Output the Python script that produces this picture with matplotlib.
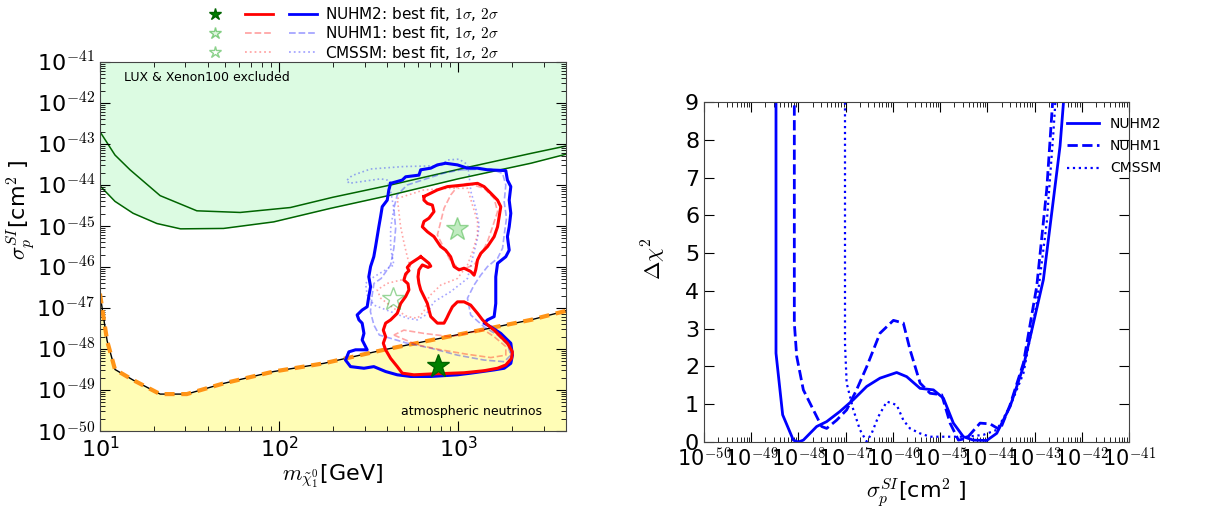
import numpy as np
import matplotlib
matplotlib.use("Agg")
from matplotlib import pyplot as plt
from matplotlib.lines import Line2D
from matplotlib.legend_handler import HandlerTuple
from matplotlib.ticker import LogLocator, NullFormatter

plt.rcParams['font.family'] = ['DejaVu Sans']
plt.rcParams['mathtext.fontset'] = 'cm'

# ---- left panel data (log10 of mass [GeV] and log10 of sigma [cm^2]) ----
# LUX and Xenon100 limits
xenon_logm = [1.0, 1.084, 1.168, 1.336, 1.541, 1.783, 2.063, 2.3, 2.623, 3.0, 3.406, 3.602]
xenon_logsig = [-42.70, -43.27, -43.63, -44.26, -44.63, -44.67, -44.55, -44.30, -44.00, -43.62, -43.23, -43.05]
lux_logm = [1.0, 1.084, 1.185, 1.318, 1.45, 1.69, 1.97, 2.287, 2.62, 3.0, 3.406, 3.602]
lux_logsig = [-44.02, -44.40, -44.69, -44.94, -45.07, -45.06, -44.90, -44.57, -44.25, -43.85, -43.47, -43.25]

# neutrino floor
nu_logm = [1.0, 1.04, 1.084, 1.186, 1.336, 1.485, 1.69, 1.97, 2.25, 2.585, 3.0, 3.406, 3.602]
nu_logsig = [-46.65, -47.8, -48.5, -48.76, -49.1, -49.1, -48.84, -48.55, -48.35, -48.02, -47.65, -47.29, -47.07]

# NUHM2 2 sigma contour
nuhm2_2s_logm = [2.623, 2.688, 2.707, 2.781, 2.791, 2.847, 2.884, 2.930, 2.996, 3.052, 3.108, 3.164,
                 3.266, 3.275, 3.294, 3.285, 3.294, 3.285, 3.275, 3.285, 3.266, 3.220, 3.210, 3.210,
                 3.201, 3.164, 3.145, 3.182, 3.238, 3.294, 3.303, 3.294, 3.257, 3.201, 3.070, 2.996,
                 2.847, 2.735, 2.660, 2.595, 2.529, 2.474, 2.399, 2.371, 2.390, 2.427, 2.492, 2.464,
                 2.474, 2.464, 2.446, 2.436, 2.464, 2.492, 2.501, 2.511, 2.501, 2.511, 2.529, 2.539,
                 2.548, 2.557, 2.567, 2.576, 2.604, 2.613, 2.623]
nuhm2_2s_logsig = [-43.96, -43.88, -43.80, -43.76, -43.63, -43.59, -43.51, -43.47, -43.51, -43.59, -43.59, -43.63,
                   -43.65, -43.88, -44.04, -44.37, -44.69, -45.02, -45.26, -45.59, -45.75, -45.91, -46.24, -46.89,
                   -47.21, -47.29, -47.37, -47.46, -47.62, -47.86, -48.15, -48.35, -48.47, -48.51, -48.59, -48.63,
                   -48.67, -48.67, -48.63, -48.55, -48.43, -48.47, -48.43, -48.27, -48.07, -48.02, -48.02, -47.78,
                   -47.62, -47.37, -47.29, -47.17, -47.05, -46.97, -46.72, -46.48, -46.24, -45.99, -45.75, -45.50,
                   -45.26, -45.02, -44.77, -44.53, -44.37, -44.12, -43.96]

# NUHM2 1 sigma contour, upper island
nuhm2_1s_up_logm = [2.809, 2.847, 2.884, 2.940, 3.033, 3.108, 3.145, 3.182, 3.220, 3.238, 3.229, 3.220,
                    3.201, 3.164, 3.126, 3.108, 3.098, 3.089, 3.070, 3.033, 3.005, 2.977, 2.958, 2.930,
                    2.902, 2.865, 2.828, 2.800, 2.809, 2.837, 2.865, 2.856, 2.828, 2.809, 2.809]
nuhm2_1s_up_logsig = [-44.28, -44.20, -44.12, -44.04, -44.00, -43.96, -44.04, -44.20, -44.37, -44.53, -44.77, -45.02,
                      -45.26, -45.50, -45.67, -45.83, -46.07, -46.20, -46.11, -46.03, -46.07, -45.99, -45.75, -45.59,
                      -45.50, -45.26, -45.14, -45.02, -44.89, -44.81, -44.65, -44.49, -44.45, -44.37, -44.28]

# NUHM2 1 sigma contour, lower island
nuhm2_1s_lo_logm = [2.791, 2.763, 2.735, 2.716, 2.725, 2.707, 2.697, 2.720, 2.725, 2.707, 2.679, 2.660,
                    2.623, 2.595, 2.582, 2.595, 2.582, 2.595, 2.623, 2.660, 2.688, 2.753, 2.847, 3.033,
                    3.145, 3.220, 3.266, 3.298, 3.303, 3.275, 3.238, 3.201, 3.164, 3.136, 3.108, 3.070,
                    3.033, 2.996, 2.968, 2.949, 2.936, 2.921, 2.884, 2.847, 2.837, 2.828, 2.809, 2.791,
                    2.781, 2.776, 2.781, 2.800, 2.832, 2.847, 2.837, 2.809, 2.791]
nuhm2_1s_lo_logsig = [-45.75, -45.83, -45.91, -46.01, -46.09, -46.17, -46.32, -46.41, -46.56, -46.72, -46.89, -47.13,
                      -47.29, -47.37, -47.54, -47.70, -47.86, -48.02, -48.23, -48.43, -48.59, -48.63, -48.61, -48.58,
                      -48.53, -48.47, -48.39, -48.23, -48.07, -47.86, -47.70, -47.54, -47.41, -47.29, -47.13, -46.93,
                      -46.85, -46.85, -46.97, -47.13, -47.25, -47.37, -47.37, -47.21, -47.05, -46.89, -46.72, -46.56,
                      -46.40, -46.24, -46.07, -45.95, -46.01, -45.98, -45.91, -45.81, -45.75]

# NUHM1 2 sigma contour
nuhm1_2s_logm = [3.015, 3.182, 3.248, 3.266, 3.257, 3.270, 3.257, 3.248, 3.220, 3.164, 3.126, 3.089,
                 3.052, 3.070, 3.145, 3.220, 3.276, 3.294, 3.257, 3.145, 2.996, 2.847, 2.716, 2.623,
                 2.560, 2.530, 2.510, 2.520, 2.530, 2.570, 2.623, 2.641, 2.651, 2.641, 2.660, 2.716,
                 2.828, 2.921, 3.015]
nuhm1_2s_logsig = [-43.63, -43.61, -43.72, -44.00, -44.41, -44.81, -45.22, -45.54, -45.79, -45.99, -46.20, -46.44,
                   -46.76, -47.17, -47.46, -47.66, -47.90, -48.15, -48.31, -48.27, -48.15, -47.98, -47.86, -47.74,
                   -47.66, -47.42, -47.09, -46.68, -46.40, -46.28, -45.95, -45.54, -45.06, -44.57, -44.24, -44.00,
                   -43.84, -43.71, -43.63]

# NUHM1 1 sigma contour, two islands
nuhm1_1s_up_logm = [3.052, 3.145, 3.201, 3.220, 3.192, 3.164, 3.126, 3.089, 3.015, 2.959, 2.921, 2.884,
                    2.903, 2.921, 2.959, 2.996, 3.052]
nuhm1_1s_up_logsig = [-43.96, -44.08, -44.33, -44.65, -45.02, -45.38, -45.71, -45.95, -46.07, -45.87, -45.54, -45.22,
                      -44.89, -44.57, -44.24, -44.04, -43.96]
nuhm1_1s_lo_logm = [2.641, 2.772, 2.903, 3.052, 3.182, 3.266, 3.266, 3.201, 3.145, 3.089, 2.959, 2.809,
                    2.697, 2.641]
nuhm1_1s_lo_logsig = [-47.66, -47.90, -48.02, -48.13, -48.21, -48.15, -47.94, -47.70, -47.54, -47.58, -47.70, -47.62,
                      -47.54, -47.66]

# CMSSM contours
cmssm_2s_logm = [2.380, 2.408, 2.511, 2.697, 2.903, 2.940, 3.005, 3.052, 3.061, 3.071, 3.098, 3.117,
                 3.108, 3.089, 3.071, 3.052, 2.959, 2.865, 2.819, 2.772, 2.716, 2.623, 2.530, 2.492,
                 2.483, 2.530, 2.641, 2.623, 2.623, 2.641, 2.623, 2.604, 2.567, 2.455, 2.390, 2.380]
cmssm_2s_logsig = [-43.88, -43.77, -43.61, -43.55, -43.53, -43.39, -43.37, -43.50, -43.76, -44.16, -44.57, -44.98,
                   -45.30, -45.63, -45.95, -46.28, -46.60, -46.85, -47.17, -47.29, -47.25, -47.09, -46.93, -46.68,
                   -46.40, -46.24, -45.95, -45.54, -45.06, -44.57, -44.16, -43.88, -43.85, -43.92, -43.96, -43.88]
cmssm_1s_logm = [2.660, 2.809, 2.959, 3.052, 3.080, 3.108, 3.108, 3.080, 3.052, 2.996, 2.903, 2.837,
                 2.809, 2.772, 2.716, 2.641, 2.567, 2.548, 2.604, 2.697, 2.735, 2.716, 2.697, 2.678,
                 2.669, 2.660]
cmssm_1s_logsig = [-44.33, -44.12, -44.08, -44.08, -44.49, -44.89, -45.22, -45.63, -45.95, -46.28, -46.44, -46.72,
                   -47.09, -47.25, -47.21, -47.01, -46.76, -46.56, -46.40, -46.30, -46.05, -45.75, -45.40, -45.00,
                   -44.65, -44.33]

# best fit points (mass in GeV, sigma in cm^2)
best_nuhm2 = (770.0, 10**-48.41)
best_nuhm1 = (980.0, 10**-45.07)
best_cmssm = (430.0, 10**-46.78)

# ---- right panel data: delta chi^2 vs log10(sigma) ----
nuhm2_dchi_logsig = [-48.476, -48.476, -48.335, -48.109, -48.003, -47.897, -47.615, -47.403, -47.121, -46.838,
                     -46.556, -46.274, -45.921, -45.709, -45.425, -45.143, -44.931, -44.720, -44.508, -44.296,
                     -44.014, -43.802, -43.519, -43.237, -43.025, -42.814, -42.602, -42.461, -42.369]
nuhm2_dchi = [9.3, 2.35, 0.72, 0.05, 0.0, 0.05, 0.41, 0.54, 0.81, 1.12,
              1.47, 1.69, 1.84, 1.73, 1.42, 1.38, 1.16, 0.50, 0.14, 0.05,
              0.04, 0.23, 0.94, 2.0, 3.15, 4.30, 6.42, 7.84, 9.3]
nuhm1_dchi_logsig = [-48.088, -48.088, -48.038, -47.897, -47.685, -47.509, -47.403, -47.19, -46.98, -46.77,
                     -46.556, -46.274, -45.99, -45.78, -45.637, -45.425, -45.213, -44.967, -44.79, -44.613,
                     -44.437, -44.155, -43.943, -43.731, -43.52, -43.237, -42.955, -42.743, -42.602]
nuhm1_dchi = [9.3, 3.15, 2.27, 1.38, 0.85, 0.41, 0.36, 0.58, 0.85, 1.38,
              1.99, 2.88, 3.22, 3.15, 2.44, 1.56, 1.29, 1.25, 0.50, 0.05,
              0.10, 0.50, 0.48, 0.32, 0.98, 2.09, 4.12, 6.69, 9.3]
cmssm_dchi_logsig = [-47.015, -47.015, -46.98, -46.838, -46.697, -46.556, -46.45, -46.31, -46.13, -45.92,
                     -45.78, -45.64, -45.43, -45.215, -45.0, -44.79, -44.437, -44.085, -43.802, -43.52,
                     -43.237, -42.955, -42.743, -42.602, -42.545]
cmssm_dchi = [9.3, 2.6, 1.56, 0.85, 0.32, 0.01, 0.23, 0.67, 1.07,
              0.98, 0.58, 0.36, 0.23, 0.14, 0.14, 0.14, 0.14, 0.19, 0.32, 0.94,
              1.82, 3.68, 5.81, 8.20, 9.3]

model_names = ['NUHM2', 'NUHM1', 'CMSSM']
decades = list(range(-50, -40))
decade_labels = [r'10$^{\mathsf{%d}}$' % k for k in decades]

fig = plt.figure(figsize=(12.13, 5.08), dpi=100)
ax1 = fig.add_axes([0.0824, 0.1516, 0.3842, 0.7264])
ax2 = fig.add_axes([0.5804, 0.1299, 0.3504, 0.6693])

p = lambda a: 10.0 ** np.array(a)

# ---------------- left panel ----------------
xmin, xmax = 10.0, 4000.0
ymin, ymax = 1e-50, 1e-41
lux_m = p(lux_logm)
ax1.fill_between(lux_m, p(lux_logsig), ymax, color='#dcfbe2', lw=0, zorder=0)
ax1.fill_between(p(nu_logm), ymin, p(nu_logsig), color='#fffdb6', lw=0, zorder=0)
ax1.plot(p(xenon_logm), p(xenon_logsig), color='darkgreen', lw=1.1, zorder=1)
ax1.plot(lux_m, p(lux_logsig), color='darkgreen', lw=1.1, zorder=1)
ax1.plot(p(nu_logm), p(nu_logsig), color='black', lw=1.0, zorder=1)
ax1.plot(p(nu_logm), p(nu_logsig), color='#ff9416', lw=3, ls=(0, (2.4, 1.6)), zorder=2)

faint = 0.35
ax1.plot(p(cmssm_2s_logm), p(cmssm_2s_logsig), color='blue', alpha=faint, lw=1.2, ls=':', zorder=3)
ax1.plot(p(cmssm_1s_logm), p(cmssm_1s_logsig), color='red', alpha=faint, lw=1.2, ls=':', zorder=3)
ax1.plot(p(nuhm1_2s_logm), p(nuhm1_2s_logsig), color='blue', alpha=faint, lw=1.2, ls='--', zorder=3)
ax1.plot(p(nuhm1_1s_up_logm), p(nuhm1_1s_up_logsig), color='red', alpha=faint, lw=1.2, ls='--', zorder=3)
ax1.plot(p(nuhm1_1s_lo_logm), p(nuhm1_1s_lo_logsig), color='red', alpha=faint, lw=1.2, ls='--', zorder=3)

ax1.plot(p(nuhm2_2s_logm), p(nuhm2_2s_logsig), color='blue', lw=2.2, zorder=4)
ax1.plot(p(nuhm2_1s_up_logm), p(nuhm2_1s_up_logsig), color='red', lw=2.2, zorder=4)
ax1.plot(p(nuhm2_1s_lo_logm), p(nuhm2_1s_lo_logsig), color='red', lw=2.2, zorder=4)

ax1.plot(*best_nuhm2, marker='*', ms=17, color='green', mec='darkgreen', zorder=6)
ax1.plot(*best_nuhm1, marker='*', ms=17, mfc=(0.2, 0.75, 0.2, 0.3), mec=(0.0, 0.6, 0.0, 0.35), zorder=6)
ax1.plot(*best_cmssm, marker='*', ms=17, mfc='none', mec=(0.0, 0.6, 0.0, 0.4), zorder=6)

ax1.text(0.052, 0.959, 'LUX & Xenon100 excluded', transform=ax1.transAxes, fontsize=9, va='center')
ax1.text(0.646, 0.0515, 'atmospheric neutrinos', transform=ax1.transAxes, fontsize=9, va='center')

ax1.set_xscale('log')
ax1.set_yscale('log')
ax1.set_xlim(xmin, xmax)
ax1.set_ylim(ymin, ymax)
ax1.set_yticks([10.0 ** k for k in decades], decade_labels)
ax1.yaxis.set_minor_locator(LogLocator(base=10, subs=np.arange(2, 10), numticks=100))
ax1.yaxis.set_minor_formatter(NullFormatter())
ax1.set_xlabel(r'$m_{\tilde{\chi}^0_1}$[GeV]', fontsize=16, labelpad=1)
ax1.set_ylabel(r'$\sigma_p^{SI}$[cm$^\mathsf{2}$ ]', fontsize=16)
ax1.yaxis.set_label_coords(-0.135, 0.6)

# legend on top of the left panel
star_kw = dict(ls='none', marker='*', ms=9)
handles = [
    (Line2D([], [], color='green', mec='darkgreen', **star_kw),
     Line2D([], [], color='red', lw=2),
     Line2D([], [], color='blue', lw=2)),
    (Line2D([], [], mfc=(0.2, 0.75, 0.2, 0.15), mec=(0.0, 0.6, 0.0, 0.45), **star_kw),
     Line2D([], [], color='red', alpha=faint, lw=1.3, ls='--'),
     Line2D([], [], color='blue', alpha=faint, lw=1.3, ls='--')),
    (Line2D([], [], mfc='none', mec=(0.0, 0.6, 0.0, 0.45), **star_kw),
     Line2D([], [], color='red', alpha=faint, lw=1.3, ls=':'),
     Line2D([], [], color='blue', alpha=faint, lw=1.3, ls=':')),
]
labels = [name + r': best fit, $1\sigma$, $2\sigma$' for name in model_names]
fig.legend(handles, labels, handler_map={tuple: HandlerTuple(ndivide=None, pad=1.1)},
           loc='upper left', bbox_to_anchor=(0.158, 1.008), frameon=False, fontsize=11,
           handlelength=7.6, handletextpad=0.5, labelspacing=0.08, borderpad=0.1)

# ---------------- right panel ----------------
ax2.plot(p(nuhm2_dchi_logsig), nuhm2_dchi, color='blue', lw=2, ls='-', label=model_names[0])
ax2.plot(p(nuhm1_dchi_logsig), nuhm1_dchi, color='blue', lw=2, ls='--', label=model_names[1])
ax2.plot(p(cmssm_dchi_logsig), cmssm_dchi, color='blue', lw=1.6, ls=':', label=model_names[2])
ax2.set_xscale('log')
ax2.set_xlim(1e-50, 1e-41)
ax2.set_ylim(0, 9)
ax2.set_xticks([10.0 ** k for k in decades], decade_labels)
ax2.xaxis.set_minor_locator(LogLocator(base=10, subs=np.arange(2, 10), numticks=100))
ax2.xaxis.set_minor_formatter(NullFormatter())
ax2.set_yticks(range(0, 10))
ax2.set_xlabel(r'$\sigma_p^{SI}$[cm$^\mathsf{2}$ ]', fontsize=16)
ax2.set_ylabel(r'$\Delta\chi^2$', fontsize=16)
ax2.yaxis.set_label_coords(-0.085, 0.54)
ax2.legend(loc='upper left', bbox_to_anchor=(0.831, 0.985), frameon=False, fontsize=10,
           handlelength=2.3, borderpad=0.2, labelspacing=0.6)

for ax in (ax1, ax2):
    ax.tick_params(which='both', direction='in', top=True, right=True, labelsize=16)
    ax.tick_params(which='major', length=7)
    ax.tick_params(which='minor', length=3.5)
    for s in ax.spines.values():
        s.set_color('#444444')
ax2.tick_params(axis='x', which='major', labelsize=15)

plt.savefig('out.png', dpi=100)
